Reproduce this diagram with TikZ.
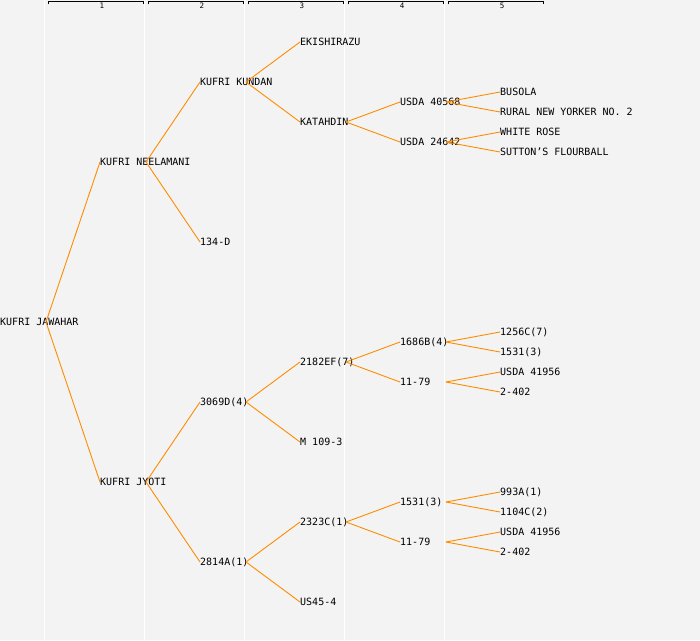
\documentclass[tikz,border=0pt]{standalone}
\usepackage{fontspec}
\newfontfamily\pedmono{DejaVu Sans Mono}
\definecolor{bgc}{RGB}{243,243,243}
\definecolor{linkc}{RGB}{255,140,0}
\tikzset{
  pnode/.style={anchor=west,inner sep=0pt,text height=7.3pt,text depth=0pt,font=\pedmono\fontsize{10}{12}\selectfont,text=black},
  link/.style={draw=linkc,line width=0.9pt},
  gridl/.style={draw=white,line width=1.5pt},
  bracket/.style={draw=black,line width=1pt},
  hdr/.style={inner sep=0pt,font=\pedmono\fontsize{7.5}{8}\selectfont}
}
\begin{document}
\begin{tikzpicture}[x=1pt,y=-1pt]
\useasboundingbox (0,0) rectangle (700,640);
\fill[bgc] (0,0) rectangle (700,640);
\foreach \c in {0,1,2,3,4}{
  \draw[gridl] (44.5+100*\c,0) -- (44.5+100*\c,640);
  \draw[bracket] (48+100*\c,4) -- (48+100*\c,1.5) -- (143+100*\c,1.5) -- (143+100*\c,4);
}
\foreach \c/\l in {0/1,1/2,2/3,3/4,4/5}{
  \node[hdr] (h\l) at (102+100*\c,6) {\l};
}
% nodes
\node[pnode] (a) at (0,322) {KUFRI JAWAHAR};
\node[pnode] (b1) at (100,162) {KUFRI NEELAMANI};
\node[pnode] (b2) at (100,482) {KUFRI JYOTI};
\node[pnode] (c1) at (200,82) {KUFRI KUNDAN};
\node[pnode] (c2) at (200,242) {134-D};
\node[pnode] (c3) at (200,402) {3069D(4)};
\node[pnode] (c4) at (200,562) {2814A(1)};
\node[pnode] (d1) at (300,42) {EKISHIRAZU};
\node[pnode] (d2) at (300,122) {KATAHDIN};
\node[pnode] (d3) at (300,362) {2182EF(7)};
\node[pnode] (d4) at (300,442) {M 109-3};
\node[pnode] (d5) at (300,522) {2323C(1)};
\node[pnode] (d6) at (300,602) {US45-4};
\node[pnode] (e1) at (400,102) {USDA 40568};
\node[pnode] (e2) at (400,142) {USDA 24642};
\node[pnode] (e3) at (400,342) {1686B(4)};
\node[pnode] (e4) at (400,382) {11-79};
\node[pnode] (e5) at (400,502) {1531(3)};
\node[pnode] (e6) at (400,542) {11-79};
\node[pnode] (f1) at (500,92) {BUSOLA};
\node[pnode] (f2) at (500,112) {RURAL NEW YORKER NO. 2};
\node[pnode] (f3) at (500,132) {WHITE ROSE};
\node[pnode] (f4) at (500,152) {SUTTON’S FLOURBALL};
\node[pnode] (f5) at (500,332) {1256C(7)};
\node[pnode] (f6) at (500,352) {1531(3)};
\node[pnode] (f7) at (500,372) {USDA 41956};
\node[pnode] (f8) at (500,392) {2-402};
\node[pnode] (f9) at (500,492) {993A(1)};
\node[pnode] (f10) at (500,512) {1104C(2)};
\node[pnode] (f11) at (500,532) {USDA 41956};
\node[pnode] (f12) at (500,552) {2-402};
% links
\foreach \p/\ch in {a/b1,a/b2,b1/c1,b1/c2,b2/c3,b2/c4,c1/d1,c1/d2,c3/d3,c3/d4,c4/d5,c4/d6,
  d2/e1,d2/e2,d3/e3,d3/e4,d5/e5,d5/e6,
  e1/f1,e1/f2,e2/f3,e2/f4,e3/f5,e3/f6,e4/f7,e4/f8,e5/f9,e5/f10,e6/f11,e6/f12}{
  \draw[link] ([xshift=46pt]\p.west) -- (\ch.west);
}
\end{tikzpicture}
\end{document}
